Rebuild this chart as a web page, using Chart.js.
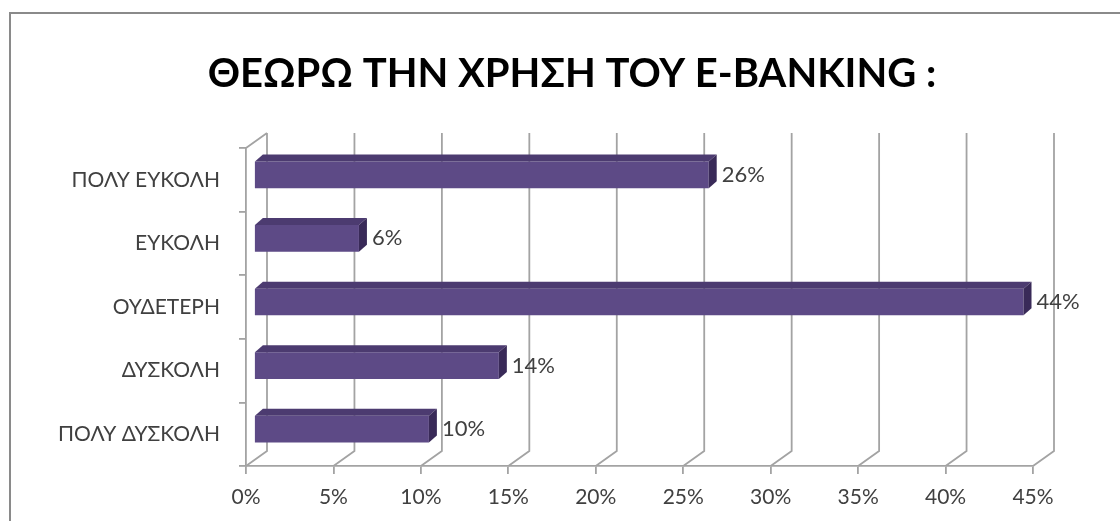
<!DOCTYPE html>
<html>
<head>
<meta charset="utf-8">
<script src="https://cdn.jsdelivr.net/npm/chart.js@4.4.0/dist/chart.umd.min.js"></script>
<style>
  html, body { margin: 0; padding: 0; background: #fff; }
  #wrap { width: 1120px; height: 521px; }
</style>
</head>
<body>
<div id="wrap"><canvas id="chart"></canvas></div>
<script>
// Survey answers, top to bottom
const categories = ['ΠΟΛΥ ΕΥΚΟΛΗ', 'ΕΥΚΟΛΗ', 'ΟΥΔΕΤΕΡΗ', 'ΔΥΣΚΟΛΗ', 'ΠΟΛΥ ΔΥΣΚΟΛΗ'];
const shares = [26, 6, 44, 14, 10];
const axisMax = 45;
const axisStep = 5;
const titleText = 'ΘΕΩΡΩ ΤΗΝ ΧΡΗΣΗ ΤΟΥ E-BANKING :';

const FONT = 'Lato, "Open Sans", sans-serif';
const GRID = '#a3a3a3';
const WALL = { x: 21, y: -15 };      // depth of the 3d box (front -> back wall)
const BAR_SHIFT = { x: 8, y: -5 };   // bars sit a bit behind the front plane
const BAR_DEPTH = { x: 8, y: -7 };
const FRONT = '#5d4a86';
const TOP = '#4c3b70';
const SIDE = '#392a58';

const box3d = {
  id: 'box3d',
  beforeDraw(chart) {
    const ctx = chart.ctx;
    ctx.save();
    ctx.fillStyle = '#fff';
    ctx.fillRect(0, 0, chart.width, chart.height);
    // outer frame (only top and left edges are inside the picture)
    ctx.strokeStyle = '#8a8a8a';
    ctx.lineWidth = 2;
    ctx.beginPath();
    ctx.moveTo(10, chart.height + 5);
    ctx.lineTo(10, 13);
    ctx.lineTo(chart.width + 5, 13);
    ctx.stroke();
    ctx.restore();
  },
  beforeDatasetsDraw(chart) {
    const { ctx, chartArea: a, scales: { x } } = chart;
    ctx.save();
    ctx.strokeStyle = GRID;
    ctx.lineWidth = 1.8;
    ctx.beginPath();
    x.ticks.forEach(t => {
      const px = x.getPixelForValue(t.value);
      ctx.moveTo(px, a.bottom);
      ctx.lineTo(px + WALL.x, a.bottom + WALL.y);
      ctx.lineTo(px + WALL.x, a.top + WALL.y);
    });
    ctx.moveTo(a.left, a.top);
    ctx.lineTo(a.left + WALL.x, a.top + WALL.y);
    ctx.stroke();
    ctx.restore();

    // front faces drawn by Chart.js, pushed back into the box
    ctx.save();
    ctx.translate(BAR_SHIFT.x, BAR_SHIFT.y);
  },
  afterDatasetsDraw(chart) {
    const ctx = chart.ctx;
    ctx.restore();

    const meta = chart.getDatasetMeta(0);
    ctx.save();
    meta.data.forEach((el, i) => {
      const p = el.getProps(['x', 'y', 'base', 'height'], true);
      const l = Math.min(p.base, p.x) + BAR_SHIFT.x;
      const r = Math.max(p.base, p.x) + BAR_SHIFT.x;
      const t = p.y - p.height / 2 + BAR_SHIFT.y;
      const b = p.y + p.height / 2 + BAR_SHIFT.y;

      // top face
      ctx.fillStyle = TOP;
      ctx.beginPath();
      ctx.moveTo(l, t);
      ctx.lineTo(l + BAR_DEPTH.x, t + BAR_DEPTH.y);
      ctx.lineTo(r + BAR_DEPTH.x, t + BAR_DEPTH.y);
      ctx.lineTo(r, t);
      ctx.closePath();
      ctx.fill();

      // side face
      ctx.fillStyle = SIDE;
      ctx.beginPath();
      ctx.moveTo(r, t);
      ctx.lineTo(r + BAR_DEPTH.x, t + BAR_DEPTH.y);
      ctx.lineTo(r + BAR_DEPTH.x, b + BAR_DEPTH.y);
      ctx.lineTo(r, b);
      ctx.closePath();
      ctx.fill();

      // value label
      ctx.fillStyle = '#404040';
      ctx.font = '22px ' + FONT;
      ctx.textAlign = 'left';
      ctx.textBaseline = 'middle';
      ctx.fillText(shares[i] + '%', r + BAR_DEPTH.x + 5, (t + b) / 2);
    });
    ctx.restore();
  }
};

new Chart(document.getElementById('chart'), {
  type: 'bar',
  data: {
    labels: categories,
    datasets: [{
      data: shares,
      backgroundColor: FRONT,
      borderWidth: 0,
      barPercentage: 0.42,
      categoryPercentage: 1
    }]
  },
  options: {
    indexAxis: 'y',
    responsive: true,
    maintainAspectRatio: false,
    animation: false,
    layout: {
      padding: { top: 0, right: 0, bottom: 0, left: 24 }
    },
    plugins: {
      legend: { display: false },
      tooltip: { enabled: false },
      title: {
        display: true,
        text: titleText,
        color: '#000',
        font: { family: FONT, size: 40, weight: 'bold', lineHeight: 1 },
        padding: { top: 54, bottom: 54 }
      }
    },
    scales: {
      x: {
        min: 0,
        max: axisMax,
        ticks: {
          stepSize: axisStep,
          color: '#404040',
          padding: 11,
          font: { family: FONT, size: 21 },
          callback: v => v + '%'
        },
        grid: {
          drawOnChartArea: false,
          drawTicks: true,
          tickLength: 8,
          color: GRID,
          lineWidth: 1.8
        },
        border: { color: GRID, width: 1.8 },
        afterFit: s => { s.height = 55; }
      },
      y: {
        ticks: {
          color: '#404040',
          padding: 19,
          font: { family: FONT, size: 21 }
        },
        grid: {
          drawOnChartArea: false,
          drawTicks: true,
          tickLength: 7,
          color: GRID,
          lineWidth: 1.8
        },
        border: { color: GRID, width: 1.8 },
        afterFit: s => { s.width = 222; }
      },
      // empty strip on the right, keeps room for the back wall and labels
      yRight: {
        type: 'category',
        position: 'right',
        grid: { display: false },
        ticks: { display: false },
        border: { display: false },
        afterFit: s => { s.width = 87; }
      }
    }
  },
  plugins: [box3d]
});
</script>
</body>
</html>
